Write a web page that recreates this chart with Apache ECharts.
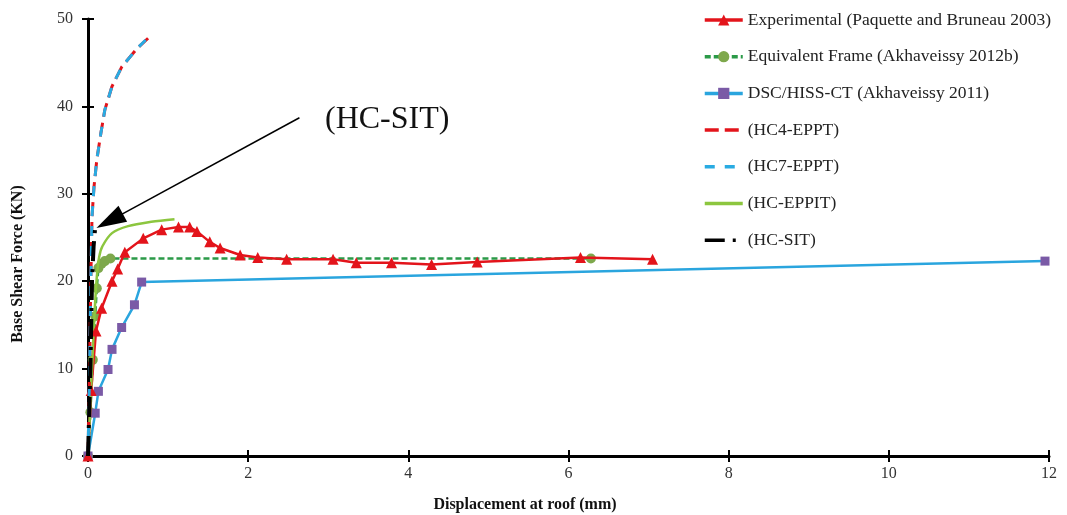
<!DOCTYPE html>
<html>
<head>
<meta charset="utf-8">
<script src="https://cdn.jsdelivr.net/npm/echarts@6/dist/echarts.min.js"></script>
<style>
  html, body { margin: 0; padding: 0; background: #fff; }
  #chart { width: 1067px; height: 515px; }
</style>
</head>
<body>
<div id="chart"></div>
<script>
// Pushover curves: [roof displacement (mm), base shear (KN)]
const experimental = [
  [0, 0], [0.04, 7.5], [0.1, 14.3], [0.17, 16.9], [0.3, 20.0], [0.37, 21.4],
  [0.46, 23.3], [0.69, 24.9], [0.92, 25.9], [1.13, 26.2], [1.27, 26.2],
  [1.36, 25.7], [1.52, 24.5], [1.65, 23.8], [1.9, 23.0], [2.12, 22.7],
  [2.48, 22.5], [3.06, 22.5], [3.35, 22.1], [3.79, 22.1], [4.29, 21.9],
  [4.86, 22.2], [6.15, 22.7], [7.05, 22.5]
];
const equivalentFrame = [
  [0, 0], [0.03, 5], [0.06, 11], [0.09, 16], [0.11, 19.2], [0.13, 21.5],
  [0.17, 22.0], [0.21, 22.3], [0.28, 22.6], [6.28, 22.6]
];
const dscHiss = [
  [0, 0], [0.09, 4.9], [0.13, 7.4], [0.25, 9.9], [0.3, 12.2], [0.42, 14.7],
  [0.58, 17.3], [0.67, 19.9], [11.95, 22.3]
];
const hc4eppt = [
  [0, 0], [0.02, 10], [0.035, 20], [0.05, 27.4], [0.075, 30.8], [0.11, 33.9],
  [0.16, 36.9], [0.21, 39.6], [0.3, 42.3], [0.42, 44.5], [0.61, 46.6], [0.75, 47.8]
];
const hc7eppt = [
  [0, 0], [0.02, 10], [0.035, 20], [0.05, 27.4], [0.075, 30.8], [0.11, 33.9],
  [0.16, 36.9], [0.21, 39.6], [0.3, 42.3], [0.42, 44.5], [0.61, 46.6], [0.72, 47.6]
];
const hcEppit = [
  [0, 0], [0.05, 10], [0.08, 16], [0.11, 20.5], [0.14, 22.8], [0.18, 24.0],
  [0.3, 25.5], [0.5, 26.3], [0.79, 26.8], [1.08, 27.1]
];
const hcSit = [
  [0, 0], [0.03, 10], [0.05, 20], [0.07, 24], [0.09, 26.2]
];

const seriesNames = [
  'Experimental (Paquette and Bruneau 2003)',
  'Equivalent Frame (Akhaveissy 2012b)',
  'DSC/HISS-CT (Akhaveissy 2011)',
  '(HC4-EPPT)',
  '(HC7-EPPT)',
  '(HC-EPPIT)',
  '(HC-SIT)'
];
const xTicks = [0, 2, 4, 6, 8, 10, 12];
const yTicks = [0, 10, 20, 30, 40, 50];

// Callout pointing at the HC-SIT curve
const calloutText = '(HC-SIT)';
const calloutFrom = [2.64, 38.7];
const calloutTo = [0.27, 26.9];

const serif = '"Liberation Serif", "DejaVu Serif", serif';
const chart = echarts.init(document.getElementById('chart'));

const axisCommon = {
  type: 'value',
  axisLine: { show: true, onZero: false, lineStyle: { color: '#000', width: 3 } },
  splitLine: { show: false },
  axisLabel: { color: '#333', fontFamily: serif, fontSize: 16 }
};

// lines drawn without point markers: hide the marker in the legend too
const noMarker = (color) => ({ color: color, opacity: 0 });

chart.setOption({
  animation: false,
  backgroundColor: '#fff',
  grid: { left: 88, right: 18, top: 19, bottom: 59 },
  xAxis: [
    Object.assign({}, axisCommon, {
      min: xTicks[0], max: xTicks[xTicks.length - 1], interval: 2,
      axisTick: { show: true, length: 6, lineStyle: { color: '#000', width: 2 } },
      axisLabel: Object.assign({}, axisCommon.axisLabel, { margin: 10 })
    }),
    {
      type: 'value', position: 'bottom', min: xTicks[0], max: xTicks[xTicks.length - 1], interval: 2,
      axisLine: { show: false }, splitLine: { show: false }, axisLabel: { show: false },
      axisTick: { show: true, inside: true, length: 6, lineStyle: { color: '#000', width: 2 } }
    }
  ],
  yAxis: [
    Object.assign({}, axisCommon, {
      min: yTicks[0], max: yTicks[yTicks.length - 1], interval: 10,
      axisTick: { show: true, length: 6, lineStyle: { color: '#000', width: 2 } },
      axisLabel: Object.assign({}, axisCommon.axisLabel, { margin: 15 })
    }),
    {
      type: 'value', position: 'left', min: yTicks[0], max: yTicks[yTicks.length - 1], interval: 10,
      axisLine: { show: false }, splitLine: { show: false }, axisLabel: { show: false },
      axisTick: { show: true, inside: true, length: 6, lineStyle: { color: '#000', width: 2 } }
    }
  ],
  legend: {
    orient: 'vertical',
    left: 703,
    top: 11,
    padding: 0,
    itemWidth: 38,
    itemHeight: 14,
    itemGap: 18.7,
    data: seriesNames,
    lineStyle: { width: 3.5 },
    textStyle: { fontFamily: serif, fontSize: 17.5, color: '#222' }
  },
  graphic: [
    {
      type: 'text', left: 325, top: 104,
      style: { text: calloutText, font: '32px ' + serif, fill: '#111' }
    },
    {
      type: 'text', x: 525, y: 505,
      style: { text: 'Displacement at roof (mm)', font: 'bold 16px ' + serif, fill: '#111',
               textAlign: 'center', textVerticalAlign: 'middle' }
    },
    {
      type: 'text', x: 18, y: 264, rotation: Math.PI / 2,
      style: { text: 'Base Shear Force (KN)', font: 'bold 16px ' + serif, fill: '#111',
               textAlign: 'center', textVerticalAlign: 'middle' }
    }
  ],
  series: [
    {
      name: seriesNames[0], type: 'line', data: experimental,
      symbol: 'triangle', symbolSize: 11, showSymbol: true,
      itemStyle: { color: '#e3141b' },
      lineStyle: { color: '#e3141b', width: 2.5 },
      z: 3
    },
    {
      name: seriesNames[1], type: 'line', data: equivalentFrame,
      symbol: 'circle', symbolSize: 10, showSymbol: true,
      itemStyle: { color: '#7ea84c' },
      lineStyle: { color: '#2b9a48', width: 2.5, type: [6, 3] },
      z: 2
    },
    {
      name: seriesNames[2], type: 'line', data: dscHiss,
      symbol: 'rect', symbolSize: 9, showSymbol: true,
      itemStyle: { color: '#7a5aa6' },
      lineStyle: { color: '#2aa5de', width: 2.5 },
      z: 2
    },
    {
      name: seriesNames[3], type: 'line', data: hc4eppt,
      symbol: 'none',
      itemStyle: noMarker('#e3141b'),
      lineStyle: { color: '#e3141b', width: 3, type: [14, 6] },
      z: 4
    },
    {
      name: seriesNames[4], type: 'line', data: hc7eppt,
      symbol: 'none',
      itemStyle: noMarker('#29abe2'),
      lineStyle: { color: '#29abe2', width: 3, type: [10, 10] },
      z: 5
    },
    {
      name: seriesNames[5], type: 'line', data: hcEppit,
      symbol: 'none', smooth: 0.3,
      itemStyle: noMarker('#8cc63f'),
      lineStyle: { color: '#8cc63f', width: 2.5 },
      z: 3
    },
    {
      name: seriesNames[6], type: 'line', data: hcSit,
      symbol: 'none',
      itemStyle: noMarker('#000'),
      lineStyle: { color: '#000', width: 4, type: [20, 8, 3, 8] },
      z: 6,
      markLine: {
        silent: true,
        animation: false,
        label: { show: false },
        itemStyle: { color: '#000', opacity: 1 },
        lineStyle: { color: '#000', width: 1.5, type: 'solid', opacity: 1 },
        data: [[
          { coord: calloutFrom, symbol: 'none' },
          { coord: calloutTo, symbol: 'triangle', symbolSize: [18, 30] }
        ]]
      }
    }
  ]
});
</script>
</body>
</html>
